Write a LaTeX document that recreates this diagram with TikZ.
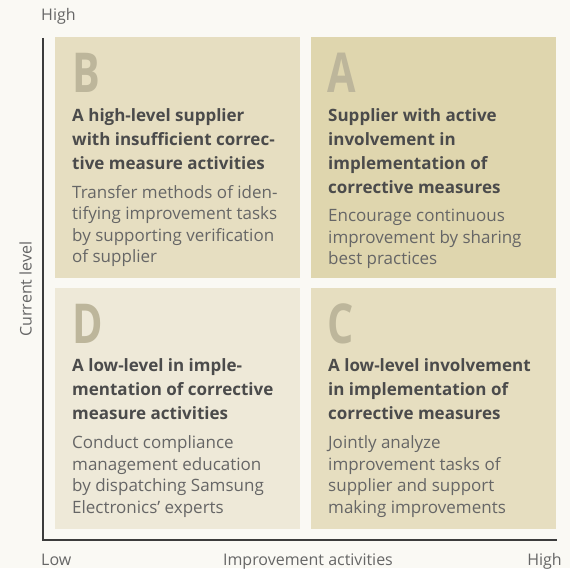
\documentclass[tikz,border=0pt]{standalone}
\usepackage{fontspec}
\setmainfont{Open Sans}
\usetikzlibrary{positioning}
\definecolor{fondoPagina}{HTML}{FAF9F4}
\definecolor{cuadroB}{HTML}{E6DEC1}
\definecolor{cuadroA}{HTML}{DFD6AE}
\definecolor{cuadroD}{HTML}{EEE9D8}
\definecolor{cuadroC}{HTML}{E6DEC0}
\definecolor{grisLetra}{HTML}{BDB69B}
\definecolor{grisTitulo}{HTML}{4B4B4B}
\definecolor{grisCuerpo}{HTML}{666666}
\definecolor{grisEje}{HTML}{3C3C3C}

\begin{document}
\begin{tikzpicture}[x=1pt, y=1pt,
        node distance=10pt and 11pt,
        cuadro/.style={minimum width=245pt, minimum height=241pt, inner sep=0pt, outer sep=0pt},
        letra/.style={text=grisLetra, font=\bfseries\fontsize{55}{55}\selectfont, inner sep=0pt},
        titulo/.style={text=grisTitulo, font=\bfseries\fontsize{17}{24}\selectfont, align=left, inner sep=0pt},
        cuerpo/.style={text=grisCuerpo, font=\fontsize{17}{21.5}\selectfont, align=left, inner sep=0pt},
        eje/.style={grisEje, line width=1.3pt},
        etiqueta/.style={text=grisCuerpo, font=\fontsize{16}{16}\selectfont, inner sep=0pt}
    ]
        \fill[fondoPagina] (0,0) rectangle (570,568);

        % cuadrantes
        \node[cuadro, fill=cuadroB, anchor=north west] (qB) at (55,531) {};
        \node[cuadro, fill=cuadroA, right=of qB] (qA) {};
        \node[cuadro, fill=cuadroD, below=of qB] (qD) {};
        \node[cuadro, fill=cuadroC, right=of qD] (qC) {};

        % B (base = ultima linea)
        \node[letra, below right=56pt and 17pt of qB.north west, anchor=base west] (lB) {\scalebox{0.75}[1]{B}};
        \node[titulo, below right=132.5pt and 17pt of qB.north west, anchor=base west] (hB)
            {A high-level supplier\\with insufficient correc-\\tive measure activities};
        \node[cuerpo, below right=226pt and 17pt of qB.north west, anchor=base west] (tB)
            {Transfer methods of iden-\\tifying improvement tasks\\by supporting verification\\of supplier};

        % A
        \node[letra, below right=56pt and 16pt of qA.north west, anchor=base west] (lA) {\scalebox{0.75}[1]{A}};
        \node[titulo, below right=156.5pt and 17pt of qA.north west, anchor=base west] (hA)
            {Supplier with active\\involvement in\\implementation of\\corrective measures};
        \node[cuerpo, below right=228pt and 17pt of qA.north west, anchor=base west] (tA)
            {Encourage continuous\\improvement by sharing\\best practices};

        % D
        \node[letra, below right=56pt and 17pt of qD.north west, anchor=base west] (lD) {\scalebox{0.75}[1]{D}};
        \node[titulo, below right=132pt and 17pt of qD.north west, anchor=base west] (hD)
            {A low-level in imple-\\mentation of corrective\\measure activities};
        \node[cuerpo, below right=225pt and 17pt of qD.north west, anchor=base west] (tD)
            {Conduct compliance\\management education\\by dispatching Samsung\\Electronics’ experts};

        % C
        \node[letra, below right=56pt and 16pt of qC.north west, anchor=base west] (lC) {\scalebox{0.75}[1]{C}};
        \node[titulo, below right=132pt and 17pt of qC.north west, anchor=base west] (hC)
            {A low-level involvement\\in implementation of\\corrective measures};
        \node[cuerpo, below right=225pt and 17pt of qC.north west, anchor=base west] (tC)
            {Jointly analyze\\improvement tasks of\\supplier and support\\making improvements};

        % ejes
        \coordinate (cima) at (43,530);
        \coordinate (origen) at (43,28);
        \coordinate (fin) at (557,28);
        \draw[eje] (cima) -- (origen) -- (fin);

        \node[etiqueta, anchor=base west] (altoY) at (41,547) {High};
        \node[etiqueta, anchor=base west] (bajoX) at (41,3) {Low};
        \node[etiqueta, anchor=base] (nombreX) at (308,3) {Improvement activities};
        \node[etiqueta, anchor=base east] (altoX) at (562,3) {High};
        \node[etiqueta, anchor=base, rotate=90] (nombreY) at (31.5,279) {Current level};
    \end{tikzpicture}
\end{document}
